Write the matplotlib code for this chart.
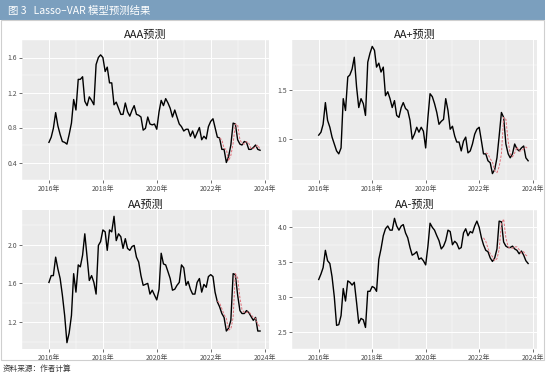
import numpy as np
import pandas as pd
import matplotlib
matplotlib.use('Agg')
import matplotlib.pyplot as plt
import matplotlib.dates as mdates
from matplotlib.patches import Rectangle

plt.rcParams['font.family'] = ['Noto Sans CJK SC', 'DejaVu Sans']
plt.rcParams['axes.unicode_minus'] = False

# 实际值 (2016-01 起, 月度)
aaa = [0.63, 0.69, 0.79, 0.97, 0.82, 0.72, 0.64, 0.63, 0.61, 0.72, 0.85, 1.12, 1.00, 1.35, 1.35, 1.38,
       1.10, 1.05, 1.15, 1.11, 1.06, 1.52, 1.60, 1.63, 1.60, 1.44, 1.49, 1.31, 1.31, 1.06, 1.09, 1.02,
       0.95, 0.95, 1.08, 0.98, 0.93, 1.00, 1.05, 0.95, 0.94, 0.92, 0.77, 0.79, 0.92, 0.84, 0.83, 0.84,
       0.78, 0.98, 1.11, 1.05, 1.13, 1.08, 1.02, 0.92, 1.00, 0.92, 0.84, 0.81, 0.76, 0.78, 0.78, 0.70,
       0.76, 0.68, 0.74, 0.80, 0.66, 0.70, 0.67, 0.81, 0.87, 0.90, 0.80, 0.69, 0.68, 0.55, 0.55, 0.40,
       0.47, 0.60, 0.85, 0.84, 0.66, 0.61, 0.60, 0.64, 0.63, 0.55, 0.55, 0.57, 0.60, 0.55, 0.54]
aa_plus = [1.04, 1.07, 1.15, 1.37, 1.19, 1.12, 1.02, 0.95, 0.88, 0.85, 0.91, 1.41, 1.29, 1.63, 1.65, 1.71,
           1.83, 1.53, 1.32, 1.41, 1.36, 1.24, 1.78, 1.87, 1.94, 1.90, 1.73, 1.77, 1.68, 1.73, 1.44, 1.48,
           1.41, 1.32, 1.39, 1.24, 1.22, 1.32, 1.37, 1.31, 1.29, 1.19, 1.00, 1.05, 1.12, 1.07, 1.12, 1.08,
           0.91, 1.22, 1.46, 1.43, 1.36, 1.27, 1.15, 1.18, 1.20, 1.41, 1.29, 1.10, 1.13, 1.03, 0.97, 0.97,
           0.88, 0.98, 1.02, 0.86, 0.88, 0.95, 1.05, 1.10, 1.12, 0.98, 0.85, 0.85, 0.78, 0.76, 0.65, 0.69,
           0.81, 1.03, 1.27, 1.22, 0.95, 0.85, 0.81, 0.85, 0.95, 0.90, 0.88, 0.91, 0.93, 0.81, 0.78]
aa = [1.61, 1.68, 1.68, 1.87, 1.75, 1.65, 1.48, 1.27, 0.99, 1.09, 1.27, 1.70, 1.51, 1.79, 1.77, 1.89,
      2.11, 1.87, 1.63, 1.68, 1.61, 1.49, 1.99, 2.03, 2.15, 2.13, 1.94, 2.15, 2.13, 2.29, 2.04, 2.11,
      2.08, 1.96, 2.06, 1.96, 1.94, 1.98, 1.99, 1.87, 1.82, 1.68, 1.58, 1.59, 1.60, 1.49, 1.53, 1.48,
      1.43, 1.54, 1.91, 1.80, 1.79, 1.72, 1.65, 1.53, 1.54, 1.58, 1.61, 1.79, 1.76, 1.58, 1.62, 1.54,
      1.49, 1.49, 1.61, 1.65, 1.51, 1.59, 1.56, 1.67, 1.69, 1.67, 1.51, 1.41, 1.36, 1.29, 1.25, 1.11,
      1.14, 1.22, 1.70, 1.69, 1.48, 1.32, 1.29, 1.29, 1.32, 1.30, 1.26, 1.22, 1.25, 1.11, 1.11]
aa_minus = [3.25, 3.33, 3.42, 3.67, 3.52, 3.48, 3.29, 3.00, 2.59, 2.60, 2.73, 3.12, 2.94, 3.23, 3.21, 3.17,
            3.21, 2.92, 2.62, 2.69, 2.67, 2.56, 3.08, 3.08, 3.15, 3.13, 3.08, 3.54, 3.69, 3.88, 3.98, 4.02,
            3.96, 3.96, 4.13, 4.02, 3.96, 4.02, 4.04, 3.92, 3.85, 3.71, 3.60, 3.62, 3.65, 3.54, 3.56, 3.52,
            3.46, 3.73, 4.06, 4.00, 3.96, 3.88, 3.81, 3.69, 3.73, 3.81, 3.96, 3.94, 3.75, 3.80, 3.77, 3.69,
            3.71, 3.92, 3.98, 3.88, 3.94, 3.92, 4.02, 4.09, 4.00, 3.85, 3.75, 3.67, 3.65, 3.56, 3.51, 3.56,
            3.69, 4.09, 4.08, 3.79, 3.73, 3.71, 3.71, 3.73, 3.69, 3.67, 3.62, 3.66, 3.60, 3.52, 3.48]

# 预测值
aaa_fc_start = '2022-05-01'
aaa_fc = [0.68, 0.66, 0.56, 0.55, 0.42, 0.48, 0.62, 0.84, 0.83, 0.66, 0.62, 0.61, 0.64, 0.62, 0.56,
          0.56, 0.58, 0.60, 0.55]
aa_plus_fc_start = '2022-04-01'
aa_plus_fc = [0.86, 0.85, 0.80, 0.77, 0.68, 0.66, 0.72, 0.85, 1.22, 1.20, 0.98, 0.85, 0.82, 0.86, 0.92,
              0.88, 0.88, 0.90, 0.92, 0.90]
aa_fc_start = '2022-04-01'
aa_fc = [1.42, 1.40, 1.34, 1.28, 1.24, 1.12, 1.13, 1.25, 1.70, 1.66, 1.45, 1.33, 1.30, 1.30, 1.31, 1.28,
         1.25, 1.24, 1.18, 1.15]
aa_minus_fc_start = '2022-03-01'
aa_minus_fc = [3.85, 3.80, 3.70, 3.62, 3.58, 3.52, 3.55, 3.68, 4.05, 4.12, 3.85, 3.72, 3.70, 3.70, 3.72,
               3.72, 3.68, 3.63, 3.65, 3.60, 3.58]

titles = ['AAA预测', 'AA+预测', 'AA预测', 'AA-预测']
yticks = [[0.4, 0.8, 1.2, 1.6], [1.0, 1.5], [1.2, 1.6, 2.0], [2.5, 3.0, 3.5, 4.0]]
ylims = [(0.335, 1.695), (0.585, 2.005), (0.925, 2.355), (2.48, 4.22)]
series = [(aaa, aaa_fc_start, aaa_fc), (aa_plus, aa_plus_fc_start, aa_plus_fc),
          (aa, aa_fc_start, aa_fc), (aa_minus, aa_minus_fc_start, aa_minus_fc)]

W, H = 550, 378
fig = plt.figure(figsize=(W / 100, H / 100), dpi=100)
fig.patch.set_facecolor('white')

# 标题栏
fig.patches.append(Rectangle((0, 1 - 20 / H), 545 / W, 20 / H, transform=fig.transFigure,
                             facecolor='#7b9fbe', edgecolor='none', zorder=0))
fig.text(8 / W, 1 - 10.5 / H, '图 3   Lasso–VAR 模型预测结果', color='white', fontsize=7.5,
         va='center', ha='left')
# 外框
fig.patches.append(Rectangle((0.5 / W, 1 - 360 / H), 543 / W, 340 / H, transform=fig.transFigure,
                             facecolor='none', edgecolor='#cfcfcf', lw=0.8, zorder=0))
fig.text(3 / W, 1 - 369 / H, '资料来源：作者计算', color='#333333', fontsize=5.5, va='center', ha='left')

pos = [(22, 40, 247, 140), (292, 40, 245, 140), (22, 210, 247, 139), (292, 210, 245, 139)]
xmin = pd.Timestamp('2015-07-15')
xmax = pd.Timestamp('2024-03-01')
major_years = [pd.Timestamp(f'{y}-01-01') for y in range(2016, 2025, 2)]
minor_years = [pd.Timestamp(f'{y}-01-01') for y in range(2015, 2025, 2)]

for k in range(4):
    l, t, w, h = pos[k]
    ax = fig.add_axes([l / W, 1 - (t + h) / H, w / W, h / H])
    ax.set_facecolor('#EBEBEB')
    vals, fc_start, fc = series[k]
    dates = pd.date_range('2016-01-01', periods=len(vals), freq='MS')
    fdates = pd.date_range(fc_start, periods=len(fc), freq='MS')
    ax.plot(dates, vals, color='black', lw=1.0, zorder=3)
    ax.plot(fdates, fc, color='#e0707a', lw=0.7, ls=(0, (2.5, 1.5)), zorder=4)

    ax.set_xlim(xmin, xmax)
    ax.set_ylim(*ylims[k])
    ax.set_xticks(major_years)
    ax.set_xticklabels([f'{d.year}年' for d in major_years])
    ax.set_xticks(minor_years, minor=True)
    yt = yticks[k]
    ax.set_yticks(yt)
    ax.set_yticklabels([f'{v:.1f}' for v in yt])
    step = yt[1] - yt[0]
    ymin_t = [v + step / 2 for v in [yt[0] - step] + yt]
    ax.set_yticks(ymin_t, minor=True)
    ax.grid(which='major', color='white', lw=0.7)
    ax.grid(which='minor', color='white', lw=0.35)
    ax.set_axisbelow(True)
    for s in ax.spines.values():
        s.set_visible(False)
    ax.tick_params(which='major', length=2, width=0.5, color='#333333', labelsize=5,
                   labelcolor='#4d4d4d', pad=1.5)
    ax.tick_params(which='minor', length=0)
    ax.set_title(titles[k], fontsize=8, pad=1.5, color='#1a1a1a')

fig.savefig('out.png', dpi=100)
